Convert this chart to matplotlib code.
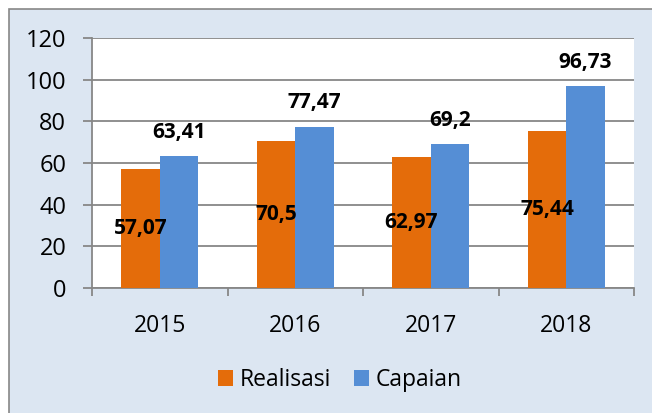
import numpy as np
import matplotlib.pyplot as plt
from matplotlib.patches import Rectangle, Patch

# --- DATA ---
years = ['2015', '2016', '2017', '2018']
realisasi = [57.07, 70.5, 62.97, 75.44]
capaian = [63.41, 77.47, 69.2, 96.73]
realisasi_labels = ['57,07', '70,5', '62,97', '75,44']
capaian_labels = ['63,41', '77,47', '69,2', '96,73']

ORANGE = '#E46C0A'
BLUE = '#558ED5'
PANEL = '#DCE6F2'
GRID = '#878787'

plt.rcParams['font.family'] = ['Open Sans', 'DejaVu Sans']

W, H = 652, 413
fig = plt.figure(figsize=(W / 100, H / 100), dpi=100)
fig.patch.set_facecolor('white')

# chart panel with grey border (runs off the right/bottom edge)
fig.patches.append(Rectangle((9 / W, -0.1), 1.2, 1 - 9 / H + 0.1,
                             transform=fig.transFigure, facecolor=PANEL,
                             edgecolor=GRID, linewidth=1.2, zorder=-10))

ax = fig.add_axes([92 / W, (H - 288) / H, (634 - 92) / W, (288 - 38) / H])
ax.set_facecolor('white')

x = np.arange(len(years))
bw = 0.285
ax.bar(x - bw / 2, realisasi, bw, color=ORANGE, zorder=3)
ax.bar(x + bw / 2, capaian, bw, color=BLUE, zorder=3)

# value labels: Realisasi centred in bar, Capaian above bar
for xi, v, t in zip(x, realisasi, realisasi_labels):
    ax.text(xi - bw / 2, v / 2, t, ha='center', va='center',
            fontsize=15, fontweight='bold', color='black', zorder=5)
for xi, v, t in zip(x, capaian, capaian_labels):
    ax.annotate(t, (xi + bw / 2, v), xytext=(0, 17), textcoords='offset points',
                ha='center', va='center', fontsize=15, fontweight='bold',
                color='black', zorder=5)

ax.set_xlim(-0.5, len(years) - 0.5)
ax.set_ylim(0, 120)
ax.set_yticks(np.arange(0, 121, 20))
ax.yaxis.grid(True, color=GRID, linewidth=1.3, zorder=1)
ax.set_axisbelow(True)

ax.set_xticks(x)
ax.set_xticklabels(years)
ax.set_xticks(np.arange(-0.5, len(years)), minor=True)
ax.tick_params(axis='x', which='major', length=0, pad=19, labelsize=16.5)
ax.tick_params(axis='x', which='minor', length=6, width=1.3, color=GRID)
ax.tick_params(axis='y', length=6.5, width=1.3, color=GRID, pad=12, labelsize=17)

for s in ['top', 'right']:
    ax.spines[s].set_visible(False)
for s in ['left', 'bottom']:
    ax.spines[s].set_color(GRID)
    ax.spines[s].set_linewidth(1.3)

handles = [Patch(facecolor=ORANGE, label='Realisasi'),
           Patch(facecolor=BLUE, label='Capaian')]
fig.legend(handles=handles, loc='center', bbox_to_anchor=(340 / W, 1 - 380 / H),
           ncol=2, frameon=False, fontsize=16.5, handlelength=0.65, handleheight=0.65,
           handletextpad=0.3, columnspacing=1.0)

fig.savefig('out.png', dpi=100)
